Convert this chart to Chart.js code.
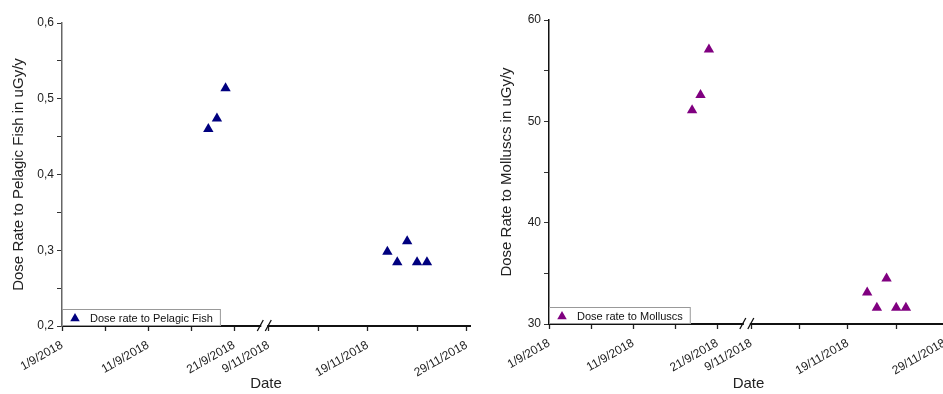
<!DOCTYPE html>
<html>
<head>
<meta charset="utf-8">
<script src="https://cdn.jsdelivr.net/npm/chart.js@4.4.0/dist/chart.umd.min.js"></script>
<style>
  body { margin: 0; background: #fff; overflow: hidden; width: 943px; height: 394px; position: relative; }
  #wrapFish { position: absolute; left: 0; top: 0; width: 471px; height: 394px; overflow: hidden; }
  #wrapMoll { position: absolute; left: 471px; top: 0; width: 472px; height: 394px; overflow: hidden; }
</style>
</head>
<body>
<div id="wrapFish"><canvas id="chart-fish" width="476" height="394" style="width:476px;height:394px"></canvas></div>
<div id="wrapMoll"><canvas id="chart-moll" width="483" height="394" style="width:483px;height:394px"></canvas></div>
<script>
// data
var sampleDates = ["18/9/2018", "19/9/2018", "20/9/2018", "21/11/2018", "22/11/2018", "23/11/2018", "24/11/2018", "25/11/2018"];
var fishValues = [0.460, 0.474, 0.514, 0.298, 0.284, 0.312, 0.284, 0.284];
var molluscValues = [51.1, 52.6, 57.1, 33.1, 31.6, 34.5, 31.6, 31.6];
var xTickLabels = ["1/9/2018", "11/9/2018", "21/9/2018", "9/11/2018", "19/11/2018", "29/11/2018"];
var xMinorLabels = ["6/9/2018", "16/9/2018", "14/11/2018", "24/11/2018"];
var fishTicks = [0.2, 0.3, 0.4, 0.5, 0.6];
var molluscTicks = [30, 40, 50, 60];

// broken date axis: september part, then november part (a bit wider per day)
var BREAK_AT = 23.5;
function toAxis(s) {
  var p = s.split("/").map(Number);
  return p[1] === 9 ? p[0] - 1 : 24 + (p[0] - 9) * 1.15;
}

var FONT = "'Liberation Sans', Arial, sans-serif";

var breakPlugin = {
  id: "axisBreak",
  afterDraw: function(chart) {
    var ctx = chart.ctx;
    var xs = chart.scales.x;
    var bx = xs.getPixelForValue(BREAK_AT);
    var y0 = chart.chartArea.bottom;
    ctx.save();
    ctx.fillStyle = "#fff";
    ctx.fillRect(bx - 3, y0 - 2, 6, 4);
    ctx.strokeStyle = "#111";
    ctx.lineWidth = 1.3;
    ctx.beginPath();
    ctx.moveTo(bx - 7, y0 + 5); ctx.lineTo(bx - 1, y0 - 6);
    ctx.moveTo(bx + 1, y0 + 5); ctx.lineTo(bx + 7, y0 - 6);
    ctx.stroke();
    ctx.restore();
  }
};

var boxLegend = {
  id: "boxLegend",
  afterDraw: function(chart) {
    var ctx = chart.ctx;
    var ds = chart.data.datasets[0];
    var area = chart.chartArea;
    ctx.save();
    ctx.font = "11px " + FONT;
    var w = 28 + ctx.measureText(ds.label).width + 8;
    var h = 17;
    var x = area.left, y = area.bottom - h;
    ctx.fillStyle = "#fff";
    ctx.fillRect(x, y, w, h);
    ctx.strokeStyle = "#999";
    ctx.lineWidth = 1;
    ctx.strokeRect(x + 0.5, y + 0.5, w - 1, h - 1);
    ctx.fillStyle = ds.backgroundColor;
    Chart.helpers.drawPoint(ctx, { pointStyle: "triangle", radius: 5.5, borderWidth: 0, rotation: 0 }, x + 13, y + h / 2 + 1);
    ctx.fillStyle = "#111";
    ctx.textBaseline = "middle";
    ctx.fillText(ds.label, x + 28, y + h / 2 + 1);
    ctx.restore();
  }
};

function makeChart(id, opt) {
  var ctx = document.getElementById(id).getContext("2d");
  var majors = xTickLabels.map(toAxis);
  var minors = xMinorLabels.map(toAxis);
  var labelFor = {};
  xTickLabels.forEach(function(l) { labelFor[toAxis(l).toFixed(2)] = l; });
  var points = sampleDates.map(function(d, i) { return { x: toAxis(d), y: opt.values[i] }; });

  return new Chart(ctx, {
    type: "scatter",
    data: {
      datasets: [{
        label: opt.label,
        data: points,
        backgroundColor: opt.color,
        borderColor: opt.color,
        pointStyle: "triangle",
        pointRadius: 6,
        pointBorderWidth: 0
      }]
    },
    options: {
      responsive: false,
      animation: false,
      layout: { padding: { top: opt.top, right: 1, left: 0, bottom: 0 } },
      plugins: { legend: { display: false }, tooltip: { enabled: false } },
      scales: {
        x: {
          type: "linear",
          min: 0,
          max: 47.4,
          afterBuildTicks: function(scale) {
            scale.ticks = majors.concat(minors).sort(function(a, b) { return a - b; }).map(function(v) { return { value: v }; });
          },
          afterFit: function(scale) {
            scale.height = opt.xHeight;
            scale.paddingRight = 0;
          },
          ticks: {
            autoSkip: false,
            maxRotation: 30,
            minRotation: 30,
            padding: 7,
            color: "#222",
            font: { family: FONT, size: 12 },
            callback: function(v) { return labelFor[Number(v).toFixed(2)] || ""; }
          },
          grid: { drawOnChartArea: false, tickLength: 5, tickColor: "#222", tickWidth: 1.3 },
          border: { color: "#111", width: 2 },
          title: { display: true, text: "Date", color: "#222", font: { family: FONT, size: 15 }, padding: { top: 0, bottom: 1 } }
        },
        y: {
          min: opt.yTicks[0],
          max: opt.yTicks[opt.yTicks.length - 1],
          afterBuildTicks: function(scale) {
            var t = [];
            for (var i = 0; i < opt.yTicks.length; i++) {
              t.push({ value: opt.yTicks[i] });
              if (i < opt.yTicks.length - 1) t.push({ value: (opt.yTicks[i] + opt.yTicks[i + 1]) / 2, minor: true });
            }
            scale.ticks = t;
          },
          afterFit: function(scale) { scale.width = opt.yWidth; },
          ticks: {
            autoSkip: false,
            padding: 3,
            color: "#222",
            font: { family: FONT, size: 12 },
            callback: function(v) { return opt.yTicks.some(function(t) { return Math.abs(t - v) < 1e-9; }) ? opt.fmt(v) : ""; }
          },
          grid: { drawOnChartArea: false, tickLength: 5, tickColor: "#333", tickWidth: 1 },
          border: { color: opt.yAxisColor, width: 1.5 },
          title: { display: true, text: opt.yTitle, color: "#222", font: { family: FONT, size: 15 }, padding: { top: opt.titlePad, bottom: 0 } }
        }
      }
    },
    plugins: [breakPlugin, boxLegend]
  });
}

var chartFish = makeChart("chart-fish", {
  label: "Dose rate to Pelagic Fish",
  values: fishValues,
  color: "#00007f",
  yTicks: fishTicks,
  fmt: function(v) { return v.toFixed(1).replace(".", ","); },
  yTitle: "Dose Rate to Pelagic Fish in uGy/y",
  yAxisColor: "#666",
  top: 23,
  xHeight: 68,
  yWidth: 62,
  titlePad: 10
});

var chartMoll = makeChart("chart-moll", {
  label: "Dose rate to Molluscs",
  values: molluscValues,
  color: "#800080",
  yTicks: molluscTicks,
  fmt: function(v) { return String(Math.round(v)); },
  yTitle: "Dose Rate to Molluscs in uGy/y",
  yAxisColor: "#111",
  top: 20,
  xHeight: 70,
  yWidth: 78,
  titlePad: 27
});
</script>
</body>
</html>
